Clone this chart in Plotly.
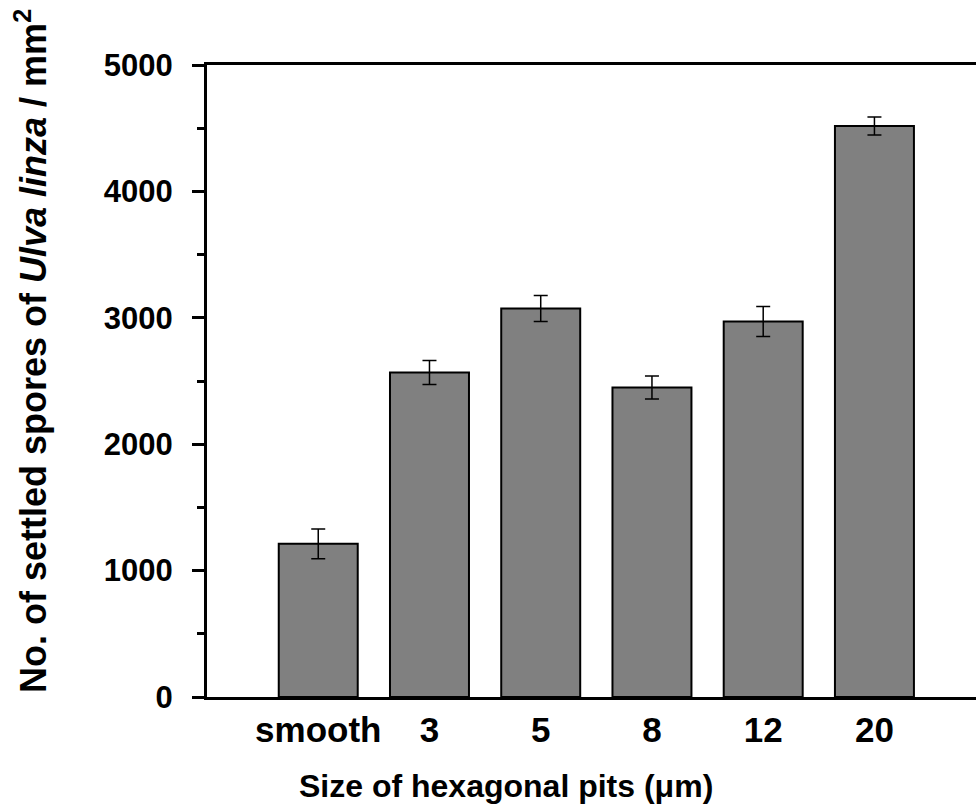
import plotly.graph_objects as go

categories = ["smooth", "3", "5", "8", "12", "20"]
spores = [1212, 2567, 3074, 2448, 2971, 4517]
errors = [118, 95, 103, 91, 119, 71]
y_ticks = [0, 1000, 2000, 3000, 4000, 5000]

FONT = "Arial, Liberation Sans, sans-serif"

fig = go.Figure()
fig.add_trace(go.Bar(
    x=list(range(len(categories))),
    y=spores,
    width=0.71,
    marker=dict(color="#808080", line=dict(color="black", width=2)),
    error_y=dict(type="data", array=errors, visible=True,
                 color="black", thickness=1.5, width=7),
    showlegend=False,
))

fig.update_layout(
    width=976, height=808,
    margin=dict(l=207, r=0, t=65, b=111),
    plot_bgcolor="white", paper_bgcolor="white",
    font=dict(family=FONT, color="black"),
    xaxis=dict(
        range=[-1, 5.913],
        tickmode="array",
        tickvals=list(range(len(categories))),
        ticktext=categories,
        ticks="",
        showline=True, linewidth=3, linecolor="black", mirror=True,
        showgrid=False, zeroline=False,
        tickfont=dict(size=35, family=FONT, weight="bold"),
        ticklabelstandoff=0,
    ),
    yaxis=dict(
        range=[0, 5000],
        tickmode="array",
        tickvals=y_ticks,
        ticks="outside", ticklen=12, tickwidth=3, tickcolor="black",
        minor=dict(dtick=500, ticks="outside", ticklen=7, tickwidth=3, tickcolor="black", showgrid=False),
        showline=True, linewidth=3, linecolor="black", mirror=False,
        showgrid=False, zeroline=False,
        tickfont=dict(size=31, family=FONT, weight="bold"),
        ticklabelstandoff=13,
    ),
    annotations=[
        dict(text="Size of hexagonal pits (\u03bcm)", xref="paper", yref="paper",
             x=(506 - 207) / 769, y=(697 - 786) / 632, xanchor="center", yanchor="middle",
             showarrow=False, font=dict(size=32, family=FONT, weight="bold")),
        dict(text="No. of settled spores of <i>Ulva linza</i> / mm<sup>2</sup>",
             xref="paper", yref="paper",
             x=(31 - 207) / 769, y=(697 - 351) / 632, xanchor="center", yanchor="middle",
             textangle=-90, showarrow=False,
             font=dict(size=36, family=FONT, weight="bold")),
    ],
)

fig.write_html("out.html")
